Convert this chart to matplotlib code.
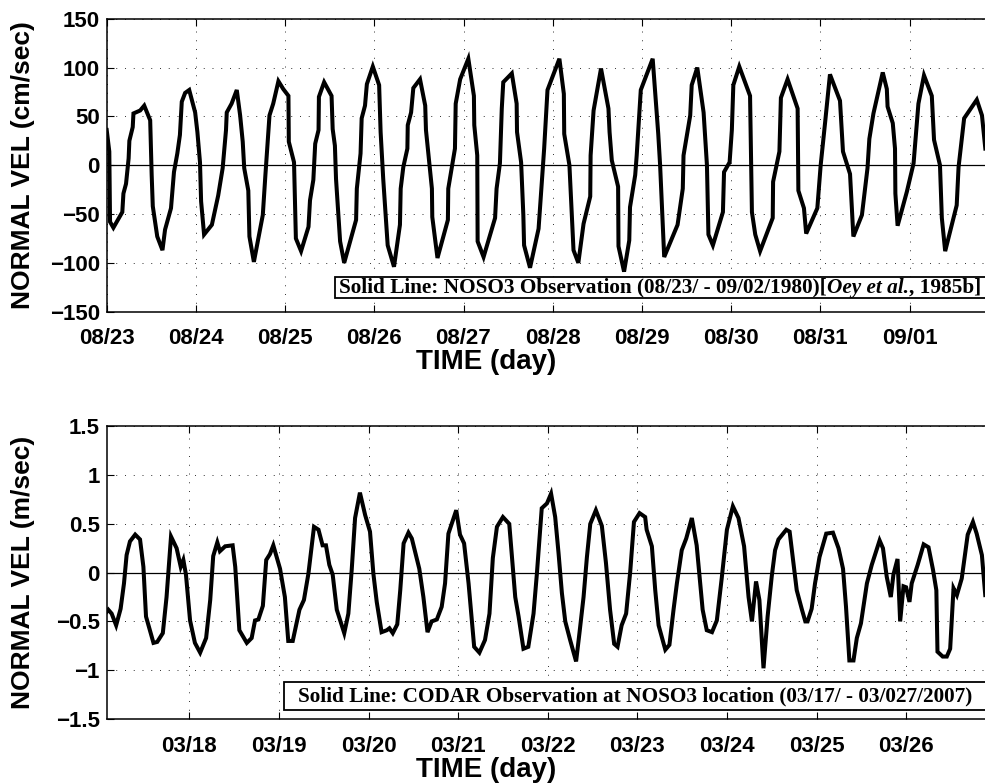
import matplotlib
matplotlib.use("Agg")
import matplotlib.pyplot as plt
from matplotlib.patches import Rectangle

# ── Data ──────────────────────────────────────────────────────────────────────
# top panel: NOSO3 observation, hours after 08/23 00:00, velocity in cm/sec
top_hours = [
    0.0, 0.7, 0.9, 1.8, 4.2, 4.5, 5.2, 5.9, 6.1, 7.0,
    7.2, 9.0, 10.1, 11.7, 12.1, 12.4, 13.6, 15.0, 15.7, 17.3,
    18.1, 19.0, 19.7, 20.2, 21.1, 22.2, 23.8, 24.4, 25.1, 25.4,
    26.2, 28.3, 30.0, 31.2, 32.1, 32.3, 33.6, 35.0, 35.9, 36.6,
    37.0, 38.1, 38.4, 39.6, 41.0, 42.0, 42.7, 43.2, 43.8, 44.8,
    46.2, 47.5, 48.9, 49.0, 50.4, 50.9, 52.3, 54.3, 54.7, 55.6,
    56.1, 57.0, 57.1, 58.5,
    60.5, 60.8, 61.4, 61.7, 62.8, 63.9, 67.1, 67.3, 68.3, 68.6,
    69.5, 70.0, 71.6, 73.3, 73.7, 74.4, 75.6, 77.3, 78.9, 79.1,
    79.8, 80.9, 81.0, 81.9, 82.5, 84.3, 85.7, 85.9, 86.6, 87.5,
    87.6, 89.0, 91.8, 91.9, 93.1, 93.7, 93.9, 95.1, 97.3, 98.8,
    98.9, 99.7, 99.8, 101.4, 104.5, 104.9, 105.8, 106.3, 106.7, 109.0,
    110.3, 110.4, 111.5, 112.1, 112.3, 113.9, 116.2,
    117.7, 118.6, 121.8, 123.0, 123.1, 124.5, 125.6, 126.9, 128.3, 130.1,
    130.2, 131.0, 133.0, 135.0, 135.3, 135.9, 137.6, 137.7, 139.2, 140.6,
    140.8, 142.2, 142.6, 143.7, 146.9, 148.4, 148.9, 150.0, 153.6, 155.0,
    155.2, 157.0, 157.4, 158.9, 160.6, 161.5, 161.9, 163.1, 165.8, 166.1,
    167.6, 168.2, 168.6, 170.2, 173.1, 173.6, 174.5, 175.8,
    179.2, 179.3, 181.0, 181.4, 183.2, 185.9, 186.1, 187.6, 188.2, 191.2,
    192.1, 193.3, 194.6, 197.3, 198.1, 200.0, 200.9, 203.2, 204.7, 205.2,
    206.3, 208.8, 209.9, 210.1, 211.5, 212.1, 212.2, 212.8, 215.3, 217.1,
    218.4, 219.9, 222.0, 222.6, 224.2, 224.7, 225.6, 228.7, 229.2, 230.7,
    234.1, 235.5, 236.4,
]
top_vel = [
    36, 14, -58, -64, -48, -29, -19, 7, 25, 39,
    53, 56, 61, 46, -10, -42, -73, -87, -66, -44,
    -7, 12, 31, 65, 74, 77, 54, 34, 3, -37,
    -71, -61, -31, -3, 36, 54, 63, 77, 51, 24,
    -3, -26, -73, -99, -71, -51, -10, 17, 51, 63,
    86, 78, 71, 24, 3, -75, -88, -63, -36, -15,
    22, 36, 70, 85,
    71, 37, 20, -14, -78, -100, -56, -24, 12, 48,
    61, 83, 101, 82, 34, -14, -82, -104, -61, -24,
    -2, 17, 41, 54, 79, 88, 61, 36, 10, -24,
    -53, -95, -56, -24, 3, 17, 63, 88, 109, 71,
    41, 10, -78, -94, -54, -24, 2, 58, 85, 94,
    63, 34, 3, -51, -82, -105, -65,
    17, 77, 109, 73, 32, 0, -87, -100, -60, -32,
    10, 56, 99, 58, 34, 5, -22, -83, -109, -77,
    -43, -10, 10, 77, 109, 32, 0, -94, -61, -24,
    10, 51, 82, 100, 54, 0, -71, -82, -48, -7,
    3, 36, 82, 101, 71, -48, -71, -88,
    -54, -17, 14, 69, 88, 58, -26, -44, -70, -44,
    0, 44, 93, 66, 14, -9, -73, -51, -3, 27,
    53, 95, 78, 60, 43, 17, -29, -62, -27, 2,
    63, 92, 71, 26, 0, -54, -88, -41, -2, 48,
    67, 51, 17,
]
top_days = ["08/23", "08/24", "08/25", "08/26", "08/27",
            "08/28", "08/29", "08/30", "08/31", "09/01"]

# bottom panel: CODAR observation, hours after 03/17 00:00, velocity in m/sec
bot_hours = [
    1.9, 2.3, 3.2, 4.4, 5.6, 6.5, 7.2, 8.1, 9.5, 10.8,
    11.7, 12.4, 13.3, 14.4, 15.4, 16.9, 17.9, 19.1, 20.6, 21.7,
    22.4, 23.1, 24.2, 25.5, 26.9, 28.5, 29.6, 30.4, 31.5, 32.2,
    33.6, 35.6, 36.3, 37.4, 39.4, 40.7, 41.6, 42.5, 43.7, 44.6,
    45.6, 46.5, 48.3, 49.6, 50.5, 51.7, 53.5, 54.7, 55.9, 57.4,
    58.6, 59.7, 60.6,
    61.5, 62.4, 63.5, 65.5, 66.6, 67.5, 68.4, 69.7, 71.1, 72.4,
    73.3, 74.2, 75.5, 76.9, 77.6, 78.5, 79.7, 80.5, 81.4, 82.7,
    83.6, 85.6, 86.7, 87.8, 88.9, 90.3, 91.6, 92.5, 93.4, 95.5,
    96.5, 97.6, 98.8, 100.3, 101.7, 103.2, 104.4, 105.3, 106.4, 108.0,
    109.7, 111.3, 112.2, 113.5, 114.8, 116.2, 117.1, 118.4,
    119.8, 120.9, 122.0, 122.9, 123.8, 124.7, 126.0, 127.6, 128.5, 129.6,
    130.5, 131.4, 132.9, 134.5, 135.6, 136.7, 137.8, 138.7, 139.8, 141.0,
    142.1, 143.1, 144.6, 146.1, 146.5, 147.9, 148.8, 149.7, 151.5, 152.6,
    153.7, 154.6, 155.9, 157.1, 158.6, 159.9, 161.5, 162.6, 164.0, 165.3,
    166.6, 168.0, 169.6, 171.1, 172.6, 173.8, 174.7, 175.8, 176.7, 177.8,
    178.9, 180.0, 180.9, 181.8, 183.9, 184.8, 185.8, 186.7, 188.1, 189.0,
    189.6, 190.7, 191.6, 192.8, 194.6, 196.4, 197.9, 199.1, 199.9, 200.8,
    201.9, 202.8, 203.9, 205.5, 206.8, 208.9, 209.8, 210.8, 211.9, 212.6,
    213.7, 214.4, 215.3, 216.0, 216.9, 217.5, 219.1, 220.7, 222.0, 223.2,
    224.1, 224.4, 225.8, 226.9, 227.8, 228.7, 229.6, 230.9, 232.5, 233.9,
    234.9, 236.3, 237.2,
]
bot_vel = [
    -0.40, -0.38, -0.42, -0.54, -0.37, -0.11, 0.18, 0.32, 0.39, 0.34,
    0.06, -0.45, -0.57, -0.72, -0.71, -0.62, -0.25, 0.37, 0.25, 0.06,
    0.13, -0.02, -0.49, -0.72, -0.82, -0.67, -0.28, 0.17, 0.31, 0.22,
    0.27, 0.28, 0.06, -0.59, -0.72, -0.67, -0.49, -0.48, -0.34, 0.13,
    0.19, 0.28, 0.04, -0.25, -0.70, -0.70, -0.38, -0.28, -0.01, 0.47,
    0.44, 0.28, 0.28,
    0.08, -0.02, -0.38, -0.62, -0.42, 0.03, 0.56, 0.82, 0.59, 0.42,
    -0.01, -0.30, -0.61, -0.59, -0.57, -0.62, -0.53, -0.18, 0.30, 0.41,
    0.35, 0.04, -0.25, -0.61, -0.50, -0.48, -0.35, -0.11, 0.40, 0.64,
    0.39, 0.30, -0.11, -0.76, -0.82, -0.69, -0.42, 0.15, 0.47, 0.57,
    0.50, -0.25, -0.45, -0.78, -0.76, -0.42, -0.01, 0.66,
    0.71, 0.81, 0.57, 0.20, -0.21, -0.50, -0.69, -0.91, -0.62, -0.25,
    0.16, 0.50, 0.64, 0.48, 0.10, -0.38, -0.73, -0.76, -0.54, -0.42,
    0.01, 0.52, 0.61, 0.57, 0.44, 0.27, -0.18, -0.54, -0.79, -0.74,
    -0.38, -0.11, 0.23, 0.35, 0.56, 0.28, -0.38, -0.59, -0.61, -0.49,
    -0.06, 0.44, 0.68, 0.56, 0.27, -0.25, -0.50, -0.09, -0.28, -0.98,
    -0.45, -0.04, 0.23, 0.34, 0.44, 0.42, 0.10, -0.18, -0.38, -0.50,
    -0.50, -0.37, -0.11, 0.16, 0.40, 0.41, 0.25, 0.04, -0.35, -0.90,
    -0.90, -0.67, -0.52, -0.11, 0.08, 0.33, 0.25, -0.04, -0.25, -0.02,
    0.14, -0.50, -0.14, -0.15, -0.30, -0.11, 0.08, 0.29, 0.26, 0.03,
    -0.18, -0.81, -0.86, -0.86, -0.78, -0.16, -0.23, -0.06, 0.39, 0.52,
    0.40, 0.18, -0.23,
]
bot_days = ["03/17", "03/18", "03/19", "03/20", "03/21",
            "03/22", "03/23", "03/24", "03/25", "03/26"]

top_yticks = [-150, -100, -50, 0, 50, 100, 150]
bot_yticks = [-1.5, -1, -0.5, 0, 0.5, 1, 1.5]

top_note = [("Solid Line: NOSO3 Observation (08/23/ - 09/02/1980)[", "normal"),
            ("Oey et al.", "italic"),
            (", 1985b]", "normal")]
bot_note = [("Solid Line: CODAR Observation at NOSO3 location (03/17/ - 03/027/2007)", "normal")]

# ── Figure ───────────────────────────────────────────────────────────────────
W, H = 985, 784
fig = plt.figure(figsize=(W / 100, H / 100), dpi=100, facecolor="white")

SANS = "Liberation Sans"
SERIF = "Liberation Serif"
AX_LEFT, AX_WIDTH = 106.7, 892.0


def px(x, y):
    return x / W, 1 - y / H


def setup(ax, hours, vel, days, yticks, ylim, xlim, ylabel):
    ax.plot(hours, vel, color="black", lw=2.9, solid_joinstyle="miter", zorder=3)
    ax.axhline(0, color="black", lw=0.9, zorder=2)
    ax.set_xticks([24 * i for i in range(len(days))])
    ax.set_xticklabels(days)
    ax.set_yticks(yticks)
    ax.set_yticklabels([f"{t:g}".replace("-", "\u2212") for t in yticks])
    ax.set_xlim(*xlim)
    ax.set_ylim(*ylim)
    for lab in ax.get_xticklabels() + ax.get_yticklabels():
        lab.set_family(SANS)
        lab.set_weight("bold")
        lab.set_fontsize(16)
    ax.tick_params(direction="in", top=True, right=False, length=5, width=0.8)
    ax.tick_params(axis="x", pad=12)
    ax.tick_params(axis="y", pad=5)
    ax.grid(True, color="#303030", linestyle=(0, (1, 8)), lw=0.7)
    for s in ax.spines.values():
        s.set_linewidth(1.1)
    ax.set_xlabel("TIME (day)", family=SANS, weight="bold", fontsize=20,
                  labelpad=0, x=(486 - AX_LEFT) / AX_WIDTH)
    ax.set_ylabel(ylabel, family=SANS, weight="bold", fontsize=19)
    ax.yaxis.set_label_coords(-(AX_LEFT - 35) / AX_WIDTH, 0.5)


ax1 = fig.add_axes([AX_LEFT / W, 1 - 311.7 / H, AX_WIDTH / W, 293 / H])
ax2 = fig.add_axes([AX_LEFT / W, 1 - 719.0 / H, AX_WIDTH / W, 292.7 / H])

setup(ax1, top_hours, top_vel, top_days, top_yticks, (-150, 150), (0, 240),
      "NORMAL VEL (cm/sec)")
setup(ax2, bot_hours, bot_vel, bot_days, bot_yticks, (-1.5, 1.5), (1.87, 240.8),
      "NORMAL VEL (m/sec)")


def note(x0, y0, y1, tx, runs, size):
    rect = Rectangle(px(x0, y1), (W + 20 - x0) / W, (y1 - y0) / H,
                     transform=fig.transFigure, facecolor="white",
                     edgecolor="black", lw=1.3, zorder=5)
    fig.add_artist(rect)
    renderer = fig.canvas.get_renderer()
    x, y = px(tx, (y0 + y1) / 2 + 0.5)
    for text, style in runs:
        t = fig.text(x, y, text, family=SERIF, weight="bold", style=style,
                     fontsize=size, ha="left", va="center", zorder=6)
        bb = t.get_window_extent(renderer)
        x = bb.x1 / fig.bbox.width


note(335, 276.7, 297.7, 339, top_note, 15.3)
note(284, 682, 710, 298, bot_note, 15.3)

fig.savefig("out.png", dpi=100, facecolor="white")
